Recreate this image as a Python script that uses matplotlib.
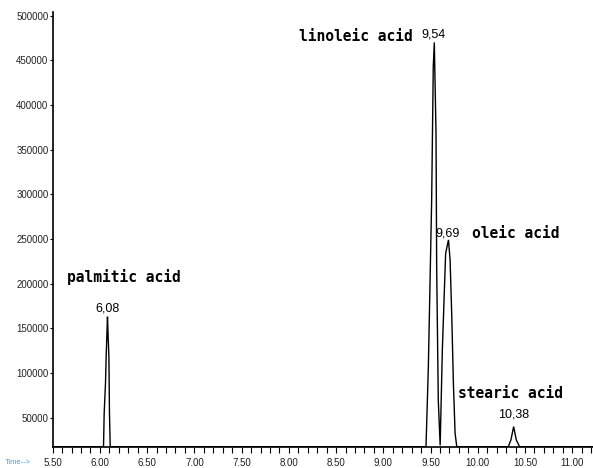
import matplotlib
matplotlib.use("Agg")
import matplotlib.pyplot as plt
from matplotlib.ticker import MultipleLocator, FixedLocator

# Chromatogram trace (retention time in min, abundance)
time = [5.50, 6.038, 6.045, 6.059, 6.066, 6.080, 6.087, 6.095, 6.101, 6.109,
        9.452, 9.477, 9.512, 9.529, 9.540, 9.558, 9.565, 9.582, 9.602,
        9.625, 9.643, 9.660, 9.690, 9.707, 9.725, 9.742, 9.760, 9.778,
        10.323, 10.351, 10.380, 10.408, 10.443, 11.22]
abundance = [17500, 17500, 55000, 88500, 118300, 163000, 140700, 118300, 55000, 17500,
             17500, 107100, 293800, 443100, 470000, 368500, 219100, 69800, 19000,
             125800, 181800, 234000, 249000, 226600, 163100, 88500, 32500, 17500,
             17500, 25000, 40000, 25000, 17500, 17500]

# Peak annotations
peak_times = [6.08, 9.54, 9.69, 10.38]
peak_labels = ["6,08", "9,54", "9,69", "10,38"]
compound_names = ["palmitic acid", "linoleic acid", "oleic acid", "stearic acid"]

x_ticks = [5.5, 6.0, 6.5, 7.0, 7.5, 8.0, 8.5, 9.0, 9.5, 10.0, 10.5, 11.0]
x_tick_labels = ["5.50", "6.00", "6.50", "7.00", "7.50", "8.00", "8.50",
                 "9.00", "9.50", "10.00", "10.50", "11.00"]
y_ticks = [50000, 100000, 150000, 200000, 250000, 300000, 350000, 400000, 450000, 500000]

W, H = 593, 468
fig = plt.figure(figsize=(W / 100, H / 100), dpi=100)
ax_left, ax_bottom, ax_right, ax_top = 52.7, 446.7, 593, 12.5
ax = fig.add_axes([ax_left / W, 1 - ax_bottom / H, (ax_right - ax_left) / W,
                   (ax_bottom - ax_top) / H])

ax.plot(time, abundance, color="black", lw=1.0, solid_joinstyle="miter")
ax.set_xlim(5.50, 11.22)
ax.set_ylim(17500, 503500)

for s in ["top", "right"]:
    ax.spines[s].set_visible(False)
for s in ["left", "bottom"]:
    ax.spines[s].set_linewidth(1.2)
    ax.spines[s].set_color("black")

tick_font = dict(family=["Liberation Sans", "DejaVu Sans"], size=7)
ax.xaxis.set_major_locator(FixedLocator(x_ticks))
ax.set_xticklabels(x_tick_labels, **tick_font, color="#222222")
ax.xaxis.set_minor_locator(MultipleLocator(0.1))
ax.tick_params(axis="x", which="both", direction="out", length=4, width=0.8, pad=4)
ax.yaxis.set_major_locator(FixedLocator(y_ticks))
ax.set_yticklabels([str(v) for v in y_ticks], **tick_font, color="#222222")
ax.tick_params(axis="y", which="major", direction="out", length=2.5, width=0.8, pad=0.5)

fig.text(5 / W, 1 - 462 / H, "Time-->", color="#4aa0d8", fontsize=5.5,
         family=["Liberation Sans", "DejaVu Sans"], va="center", ha="left")

name_font = dict(family=["DejaVu Sans Mono"], weight="bold", size=10.5)
num_font = dict(family=["Liberation Sans Narrow", "Liberation Sans"], size=9)

# peak retention-time labels
ax.text(peak_times[0], 172500, peak_labels[0], ha="center", va="center", **num_font)
ax.text(peak_times[1] - 0.01, 478400, peak_labels[1], ha="center", va="center", **num_font)
ax.text(peak_times[2] - 0.005, 256500, peak_labels[2], ha="center", va="center", **num_font)
ax.text(peak_times[3] - 0.003, 53000, peak_labels[3], ha="center", va="center", **num_font)

# compound names
ax.text(6.254, 207600, compound_names[0], ha="center", va="center", **name_font)
ax.text(8.71, 476300, compound_names[1], ha="center", va="center", **name_font)
ax.text(9.934, 256500, compound_names[2], ha="left", va="center", **name_font)
ax.text(9.792, 77300, compound_names[3], ha="left", va="center", **name_font)

fig.savefig("out.png", dpi=100)
